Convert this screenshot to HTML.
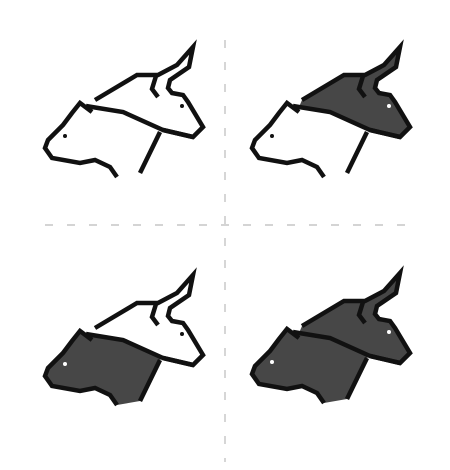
<!DOCTYPE html>
<html><head><meta charset="utf-8"><style>
html,body{margin:0;padding:0;background:#fff;width:450px;height:470px;overflow:hidden}
</style></head><body>
<svg id="art" width="450" height="470" viewBox="0 0 450 470" xmlns="http://www.w3.org/2000/svg">
<line x1="225" y1="40" x2="225" y2="462" stroke="#bbb" stroke-width="1.2" stroke-dasharray="8,14"/>
<line x1="45" y1="225" x2="410" y2="225" stroke="#bbb" stroke-width="1.2" stroke-dasharray="8,14"/>
</svg>
<script>
const NS='http://www.w3.org/2000/svg';
const svg=document.getElementById('art');
const bullFill="95,100 137,75 158,75 177,65 193,47 189,67 170,80 168,88 172,93 183,95 188,102 203,127 193,137 163,130 123,112 92,107";
const bullTop="M95,100 L137,75 L158,75 L177,65 L193,47 L189,67 L170,80 L168,88 L172,93 L183,95 L188,102 L203,127 L193,137 L163,130";
const bearFill="80,103 92,112 92,107 123,112 163,130 160,132 140,173 117,177 110,167 95,160 80,163 52,158 45,148 48,140 63,125 72,113";
const bearLine="M117,177 L110,167 L95,160 L80,163 L52,158 L45,148 L48,140 L63,125 L72,113 L80,103 L92,112 M86,106 L92,107 L123,112 L163,130 L193,137";
const quads=[[0,0,false,false],[207,0,true,false],[0,228,false,true],[207,226,true,true]];
quads.forEach((q,i)=>{
  const g=document.createElementNS(NS,'g');
  
  
  g.setAttribute('transform',`translate(${q[0]},${q[1]})`);
  const mk=(tag,attrs)=>{const e=document.createElementNS(NS,tag);for(const k in attrs)e.setAttribute(k,attrs[k]);g.appendChild(e);return e;};
  const sw={stroke:'#111','stroke-width':4.5,'stroke-linejoin':'miter','stroke-linecap':'butt'};
  const bull=mk('polygon',{points:bullFill,fill:q[2]?'#474747':'#fff',stroke:'none'});
  
  
  const bear=mk('polygon',{points:bearFill,fill:q[3]?'#474747':'#fff',stroke:'none'});
  
  
  mk('path',Object.assign({d:bullTop,fill:'none'},sw));
  mk('path',Object.assign({d:"M156,76 L152,89 L158,97"},sw,{fill:'none'}));
  mk('path',Object.assign({d:bearLine,fill:'none'},sw));
  mk('path',Object.assign({d:"M160,132 L140,173"},sw,{fill:'none'}));
  const e1=mk('circle',{cx:182,cy:106,r:2,fill:q[2]?'#fff':'#111'});
  
  
  const e2=mk('circle',{cx:65,cy:136,r:2,fill:q[3]?'#fff':'#111'});
  
  
  svg.appendChild(g);
});
</script>
</body></html>
